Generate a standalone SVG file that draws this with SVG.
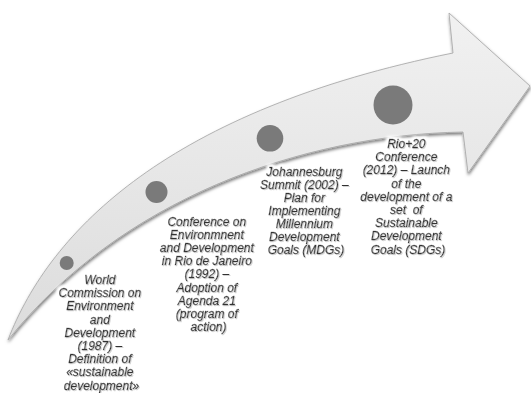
<svg xmlns="http://www.w3.org/2000/svg" width="531" height="393" viewBox="0 0 531 393">
  <defs>
    <linearGradient id="band" x1="0" y1="0" x2="0" y2="1">
      <stop offset="0" stop-color="#f1f1f1"/>
      <stop offset="1" stop-color="#dcdcdc"/>
    </linearGradient>
    <filter id="shadow" x="-10%" y="-10%" width="120%" height="130%">
      <feDropShadow dx="0.5" dy="2" stdDeviation="1.4" flood-color="#000" flood-opacity="0.5"/>
    </filter>
    <filter id="glow" x="-20%" y="-20%" width="140%" height="140%">
      <feMorphology in="SourceAlpha" operator="dilate" radius="1.5" result="d"/>
      <feGaussianBlur in="d" stdDeviation="1.5" result="b"/>
      <feFlood flood-color="#ffffff"/>
      <feComposite in2="b" operator="in" result="w"/>
      <feGaussianBlur in="SourceAlpha" stdDeviation="0.6" result="s"/>
      <feOffset in="s" dx="0.6" dy="0.8" result="so"/>
      <feComponentTransfer in="so" result="sh">
        <feFuncA type="linear" slope="0.35"/>
      </feComponentTransfer>
      <feMerge>
        <feMergeNode in="w"/>
        <feMergeNode in="w"/>
        <feMergeNode in="sh"/>
        <feMergeNode in="SourceGraphic"/>
      </feMerge>
    </filter>
  </defs>
  <style>
    .dot { fill: #7a7a7a; }
    .lbl { font-family: "Liberation Sans", Arial, sans-serif; font-style: italic; font-size: 12px; fill: #333333; stroke: #333333; stroke-width: 0.35; text-anchor: middle; filter: url(#glow); }
  </style>
  <rect width="531" height="393" fill="#ffffff"/>
  <g id="connectors">
    <path id="timeline-arrow" d="M 8,340 C 50,230 170,110 453,53 L 449,13 L 530,86 L 468,173 L 463,132 C 300,135 120,200 8,340 Z" fill="url(#band)" stroke="#acacac" stroke-width="0.9" filter="url(#shadow)"/>
  </g>
  <g id="node-1987">
    <circle class="dot" cx="66.7" cy="263" r="7"/>
    <text class="lbl">
      <tspan x="101.5" y="284">World</tspan>
      <tspan x="101.5" y="297.2">Commission on</tspan>
      <tspan x="101.5" y="310.4">Environment</tspan>
      <tspan x="101.5" y="323.6">and</tspan>
      <tspan x="101.5" y="336.8">Development</tspan>
      <tspan x="101.5" y="350">(1987) –</tspan>
      <tspan x="101.5" y="363.2">Definition of</tspan>
      <tspan x="101.5" y="376.4">«sustainable</tspan>
      <tspan x="101.5" y="389.6">development»</tspan>
    </text>
  </g>
  <g id="node-1992">
    <circle class="dot" cx="156.5" cy="192" r="11"/>
    <text class="lbl">
      <tspan x="208.5" y="225.5">Conference on</tspan>
      <tspan x="208.5" y="238.7">Environmnent</tspan>
      <tspan x="208.5" y="251.9">and Development</tspan>
      <tspan x="208.5" y="265.1">in Rio de Janeiro</tspan>
      <tspan x="208.5" y="278.3">(1992) –</tspan>
      <tspan x="208.5" y="291.5">Adoption of</tspan>
      <tspan x="208.5" y="304.7">Agenda 21</tspan>
      <tspan x="208.5" y="317.9">(program of</tspan>
      <tspan x="208.5" y="331.1">action)</tspan>
    </text>
  </g>
  <g id="node-2002">
    <circle class="dot" cx="270" cy="138.3" r="13.3"/>
    <text class="lbl">
      <tspan x="306" y="175.5">Johannesburg</tspan>
      <tspan x="306" y="188.6">Summit (2002) –</tspan>
      <tspan x="306" y="201.7">Plan for</tspan>
      <tspan x="306" y="214.8">Implementing</tspan>
      <tspan x="306" y="227.9">Millennium</tspan>
      <tspan x="306" y="241">Development</tspan>
      <tspan x="306" y="254.1">Goals (MDGs)</tspan>
    </text>
  </g>
  <g id="node-2012">
    <circle class="dot" cx="393" cy="105" r="19.5"/>
    <text class="lbl">
      <tspan x="408" y="148">Rio+20</tspan>
      <tspan x="408" y="161.2">Conference</tspan>
      <tspan x="408" y="174.4">(2012) – Launch</tspan>
      <tspan x="408" y="187.6">of the</tspan>
      <tspan x="408" y="200.8">development of a</tspan>
      <tspan x="408" y="214" xml:space="preserve">set  of</tspan>
      <tspan x="408" y="227.2">Sustainable</tspan>
      <tspan x="408" y="240.4">Development</tspan>
      <tspan x="408" y="253.6">Goals (SDGs)</tspan>
    </text>
  </g>
</svg>
